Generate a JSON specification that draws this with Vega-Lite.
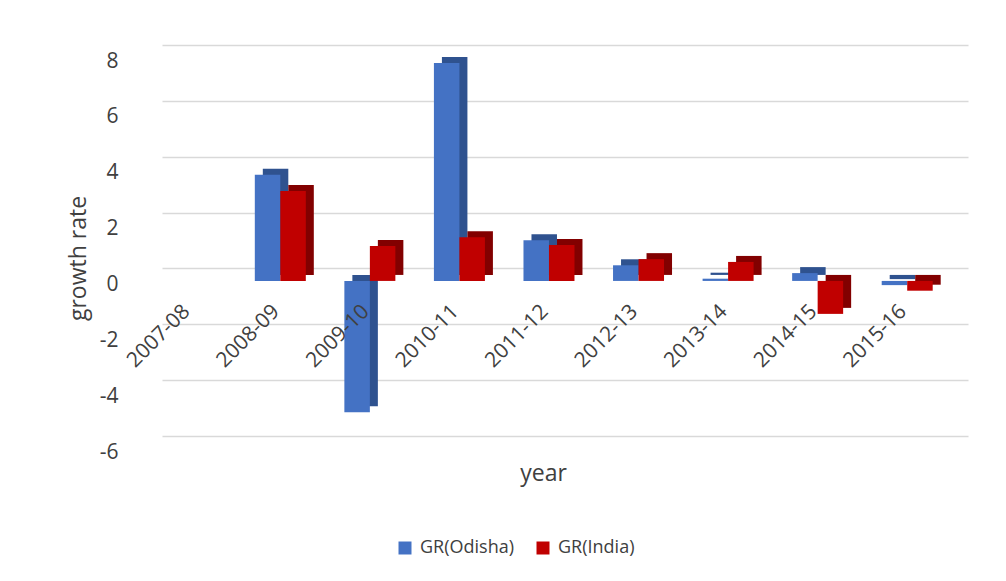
{
  "$schema": "https://vega.github.io/schema/vega-lite/v6.json",
  "width": 806,
  "height": 391,
  "autosize": {"type": "none"},
  "padding": {"left": 162, "top": 45, "right": 38, "bottom": 145},
  "background": "white",
  "data": {
    "values": [
      {"year": "2007-08", "series": "GR(Odisha)", "value": null},
      {"year": "2007-08", "series": "GR(India)", "value": null},
      {"year": "2008-09", "series": "GR(Odisha)", "value": 3.8},
      {"year": "2008-09", "series": "GR(India)", "value": 3.22},
      {"year": "2009-10", "series": "GR(Odisha)", "value": -4.7},
      {"year": "2009-10", "series": "GR(India)", "value": 1.25},
      {"year": "2010-11", "series": "GR(Odisha)", "value": 7.8},
      {"year": "2010-11", "series": "GR(India)", "value": 1.56},
      {"year": "2011-12", "series": "GR(Odisha)", "value": 1.46},
      {"year": "2011-12", "series": "GR(India)", "value": 1.29},
      {"year": "2012-13", "series": "GR(Odisha)", "value": 0.56},
      {"year": "2012-13", "series": "GR(India)", "value": 0.78},
      {"year": "2013-14", "series": "GR(Odisha)", "value": 0.08},
      {"year": "2013-14", "series": "GR(India)", "value": 0.68},
      {"year": "2014-15", "series": "GR(Odisha)", "value": 0.28},
      {"year": "2014-15", "series": "GR(India)", "value": -1.18},
      {"year": "2015-16", "series": "GR(Odisha)", "value": -0.15},
      {"year": "2015-16", "series": "GR(India)", "value": -0.35}
    ]
  },
  "encoding": {
    "x": {
      "field": "year",
      "type": "nominal",
      "sort": null,
      "scale": {
        "domain": ["2007-08", "2008-09", "2009-10", "2010-11", "2011-12", "2012-13", "2013-14", "2014-15", "2015-16"],
        "paddingInner": 0.43,
        "paddingOuter": 0.215
      },
      "axis": {
        "title": "year",
        "zindex": 1,
        "offset": -146,
        "domain": false,
        "ticks": false,
        "grid": false,
        "labelAngle": -45,
        "labelAlign": "right",
        "labelBaseline": "middle",
        "labelOffset": -20,
        "labelPadding": 18,
        "labelFontSize": 21,
        "labelFont": "Open Sans",
        "labelColor": "#404040",
        "titleFont": "Open Sans",
        "titleFontSize": 23,
        "titleFontWeight": "normal",
        "titleColor": "#404040",
        "titleX": 381,
        "titleY": 190,
        "titleBaseline": "alphabetic"
      }
    },
    "y": {
      "field": "value",
      "type": "quantitative",
      "scale": {"domain": [-6, 8], "nice": false, "zero": true},
      "axis": {
        "title": "growth rate",
        "values": [-6, -4, -2, 0, 2, 4, 6, 8],
        "labelExpr": "'' + datum.value",
        "domain": false,
        "ticks": false,
        "grid": true,
        "gridColor": "#d9d9d9",
        "gridWidth": 1.6,
        "labelOffset": 16,
        "labelPadding": 44,
        "labelFontSize": 21,
        "labelFont": "Open Sans",
        "labelColor": "#404040",
        "titleFont": "Open Sans",
        "titleFontSize": 23,
        "titleFontWeight": "normal",
        "titleColor": "#404040",
        "titleX": -77,
        "titleY": 213,
        "titleBaseline": "alphabetic"
      }
    }
  },
  "layer": [
    {
      "mark": {"type": "bar", "yOffset": 6.5, "y2Offset": 6.5},
      "encoding": {
        "xOffset": {
          "field": "series",
          "type": "nominal",
          "sort": ["GR(Odisha)", "GR(India)"],
          "scale": {"range": [-8, 43], "paddingInner": 0, "paddingOuter": 0}
        },
        "color": {
          "field": "series",
          "type": "nominal",
          "scale": {"domain": ["GR(Odisha)", "GR(India)"], "range": ["#2F528F", "#820000"]},
          "legend": null
        }
      }
    },
    {
      "mark": {"type": "bar", "yOffset": 12.5, "y2Offset": 12.5},
      "encoding": {
        "xOffset": {
          "field": "series",
          "type": "nominal",
          "sort": ["GR(Odisha)", "GR(India)"],
          "scale": {"range": [-16, 35], "paddingInner": 0, "paddingOuter": 0}
        },
        "color": {
          "field": "series",
          "type": "nominal",
          "scale": {"domain": ["GR(Odisha)", "GR(India)"], "range": ["#4472C4", "#C00000"]},
          "legend": {
            "title": null,
            "orient": "none",
            "direction": "horizontal",
            "legendX": 234,
            "legendY": 494,
            "symbolType": "square",
            "symbolSize": 169,
            "symbolStrokeWidth": 0,
            "labelFont": "Open Sans",
            "labelFontSize": 18,
            "labelColor": "#404040",
            "labelOffset": 6,
            "columnPadding": 20
          }
        }
      }
    }
  ],
  "resolve": {"scale": {"color": "independent", "xOffset": "independent"}},
  "config": {
    "view": {"stroke": null}
  }
}
